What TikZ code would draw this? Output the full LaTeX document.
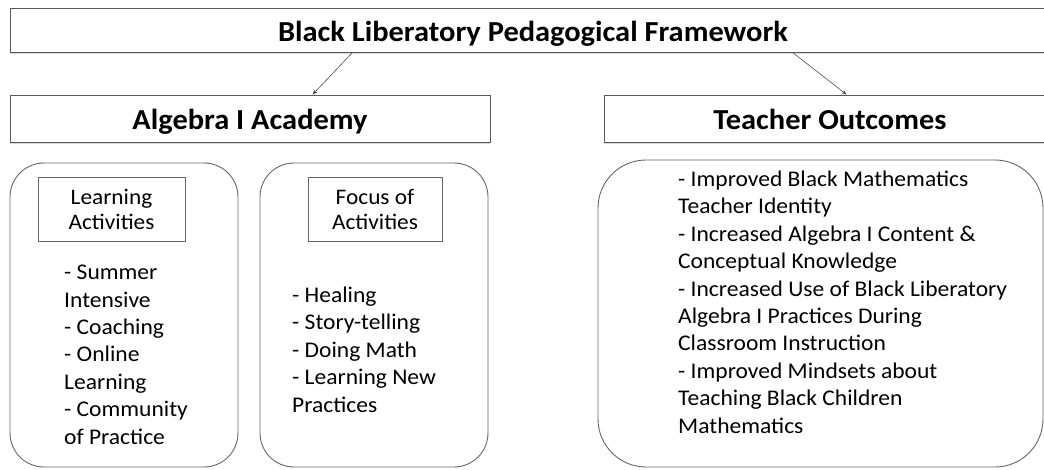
\documentclass[tikz,border=0pt]{standalone}
\usepackage{fontspec}
\setmainfont{Carlito}[FakeStretch=1.05]
\usetikzlibrary{arrows.meta,shadows}
\begin{document}
\begin{tikzpicture}[x=1pt,y=-1pt,
  headbox/.style={draw=black!65, line width=0.9pt, fill=white, inner sep=0pt,
    text height=21pt, text depth=0pt,
    font=\bfseries\fontsize{29}{32}\selectfont,
    drop shadow={opacity=0.3,shadow xshift=0pt,shadow yshift=-2pt}},
  roundbox/.style={draw=black!60, line width=0.9pt, inner sep=0pt, rounded corners=34pt},
  labelbox/.style={draw=black!60, line width=0.8pt, align=center, inner sep=0pt,
    font=\fontsize{22.2}{25}\selectfont},
  listtext/.style={align=left, anchor=base west, inner sep=0pt,
    font=\fontsize{22.4}{27.4}\selectfont},
  link/.style={draw=black!70, line width=0.6pt, -{Stealth[length=5pt,width=4pt]}}
]
\useasboundingbox (0,0) rectangle (1044,469);

% header boxes
\node[headbox, text height=22pt, minimum width=1046pt, minimum height=44pt] (top) at (533,30)
  {Black Liberatory Pedagogical Framework};
\node[headbox, minimum width=480pt, minimum height=47pt] (alg) at (250,118.5)
  {Algebra I Academy};
\node[headbox, minimum width=452pt, minimum height=47pt] (out) at (830,118.5)
  {Teacher Outcomes};

% rounded panels
\node[roundbox, minimum width=228pt, minimum height=304pt] (act) at (124,315) {};
\node[roundbox, minimum width=228pt, minimum height=304pt] (foc) at (374,315) {};
\node[roundbox, rounded corners=48pt, minimum width=445pt, minimum height=307pt] (res) at (820.5,313.5) {};

% panel headings
\node[labelbox, minimum width=147pt, minimum height=64pt] (acthd) at (111.5,209)
  {Learning\\Activities};
\node[labelbox, minimum width=134pt, minimum height=64pt] (fochd) at (375,209)
  {Focus of\\Activities};

% panel lists (placed by the baseline of their last line)
\node[listtext] (actlist) at (64,444)
  {- Summer\\Intensive\\- Coaching\\- Online\\Learning\\- Community\\of Practice};
\node[listtext] (foclist) at (292,412)
  {- Healing\\- Story-telling\\- Doing Math\\- Learning New\\Practices};
\node[listtext] (reslist) at (678,433)
  {- Improved Black Mathematics\\Teacher Identity\\- Increased Algebra I Content \&\\Conceptual Knowledge\\- Increased Use of Black Liberatory\\Algebra I Practices During\\Classroom Instruction\\- Improved Mindsets about\\Teaching Black Children\\Mathematics};

% connectors
\draw[link] ([xshift=343pt]top.south west) -- ([xshift=303pt]alg.north west);
\draw[link] ([xshift=783pt]top.south west) -- ([xshift=243pt]out.north west);
\end{tikzpicture}
\end{document}
